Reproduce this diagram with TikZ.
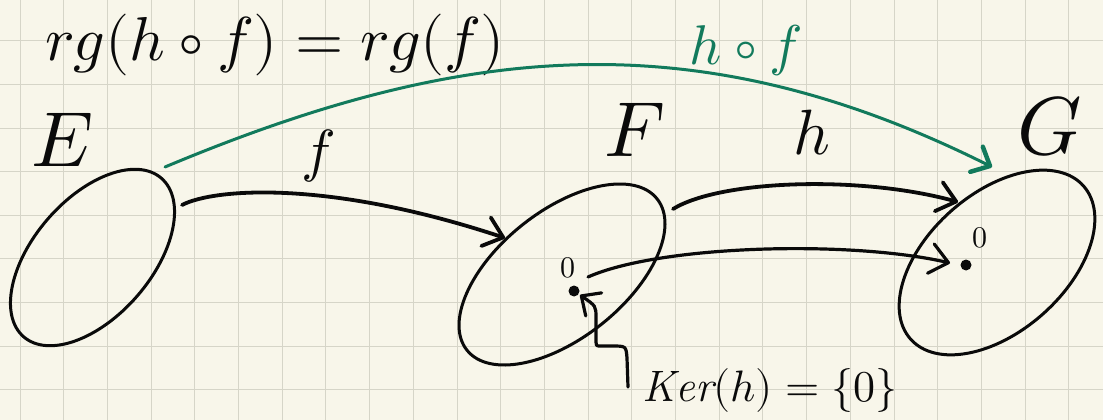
\documentclass[tikz,border=0pt]{standalone}
\usepackage{unicode-math}
\setmathfont{Latin Modern Math}
\usetikzlibrary{arrows.meta,shapes.geometric}
\definecolor{paper}{HTML}{F8F6EA}
\definecolor{gridc}{HTML}{D6D5C8}
\definecolor{ink}{HTML}{0A0A0A}
\definecolor{hofgreen}{HTML}{127A5C}
\tikzset{
  setshape/.style={draw=ink, line width=3pt, ellipse, inner sep=0pt},
  mapline/.style={draw=ink, line width=3.8pt, line cap=round,
    -{Straight Barb[length=18pt,width=30pt,round]}},
  gridline/.style={draw=gridc, line width=1pt},
  lbl/.style={inner sep=0pt, text=ink},
  elemdot/.style={circle, fill=ink, inner sep=0pt, minimum size=11pt},
}
\begin{document}
\begin{tikzpicture}[x=1pt,y=-1pt]
\fill[paper] (0,0) rectangle (1103,420);
\useasboundingbox (0,0) rectangle (1103,420);
% grid
\foreach \k in {0,...,24} \draw[gridline] ({20+43.7*\k},0) -- ({20+43.7*\k},420);
\foreach \k in {0,...,9} \draw[gridline] (0,{-2.7+43.6*\k}) -- (1103,{-2.7+43.6*\k});

% sets
\node[setshape, minimum width=210pt, minimum height=118pt, rotate=49] (E) at (92.5,257.5) {};
\node[setshape, minimum width=243pt, minimum height=127pt, rotate=38.5] (F) at (562,274.5) {};
\node[setshape, minimum width=231pt, minimum height=138pt, rotate=41.5] (G) at (997,262.5) {};

% labels
\node[lbl, font=\fontsize{62}{64}\selectfont] (rg) at (275,45) {$rg(h\circ f)=rg(f)$};
\node[lbl, font=\fontsize{78}{80}\selectfont] (Elbl) at (62,140) {$E$};
\node[lbl, font=\fontsize{78}{80}\selectfont] (Flbl) at (635,130) {$F$};
\node[lbl, font=\fontsize{82}{84}\selectfont] (Glbl) at (1050,126) {$G$};
\node[lbl, font=\fontsize{58}{60}\selectfont] (flbl) at (318,156) {$f$};
\node[lbl, font=\fontsize{64}{66}\selectfont] (hlbl) at (812,133) {$h$};
\node[lbl, text=hofgreen, font=\fontsize{56}{58}\selectfont] (hoflbl) at (746,50) {$h\circ f$};
\node[lbl, font=\fontsize{44}{46}\selectfont] (kerlbl) at (770,390) {$\mathit{Ker}(h)=\{0\}$};

% elements
\node[elemdot] (zF) at (574,291) {};
\node[elemdot] (zG) at (966,265) {};
\node[lbl, font=\fontsize{30}{32}\selectfont] (zFlbl) at (568,268) {$0$};
\node[lbl, font=\fontsize{30}{32}\selectfont] (zGlbl) at (980,238) {$0$};

% connector end points
\coordinate (fs) at (182,205);
\coordinate (fe) at (505,238);
\coordinate (hs) at (673,209);
\coordinate (he) at (958,202);
\coordinate (zs) at (588,277);
\coordinate (ze) at (950,263);
\coordinate (gs) at (165,167);
\coordinate (ge) at (992,167);
\coordinate (ks) at (628,387);
\coordinate (ke) at (580,295);

% maps
\draw[mapline] (fs) .. controls (215,188) and (330,180) .. (fe);
\draw[mapline] (hs) .. controls (720,180) and (860,175) .. (he);
\draw[mapline, line width=3.2pt] (zs) .. controls (660,245) and (850,240) .. (ze);
\draw[draw=hofgreen, line width=3pt, line cap=round,
  -{Straight Barb[length=15pt,width=28pt,round,line width=4.5pt]}]
  (gs) .. controls (461,43) and (696,19) .. (ge);
\draw[mapline, line width=3.2pt, -{Straight Barb[length=15pt,width=28pt,round]}]
  (ks) -- (627,358) .. controls (626,346) .. (612,346) -- (600,346)
  .. controls (596,346) .. (596,338) -- (596,318) .. controls (596,306) .. (ke);
\end{tikzpicture}
\end{document}
